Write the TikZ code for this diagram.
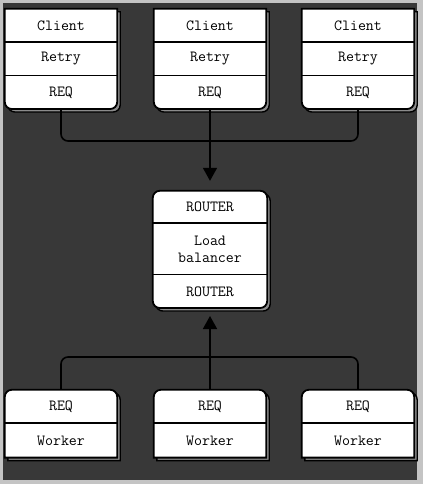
\documentclass[tikz,border=0pt]{standalone}
\usepackage{fontspec}
\usepackage{xcolor}
\usepackage{tikz}
\usetikzlibrary{positioning, arrows.meta, backgrounds, calc}
\definecolor{framegray}{HTML}{C4C4C4}
\definecolor{boardgray}{HTML}{383838}
\definecolor{shadegray}{HTML}{8C8C8C}

\tikzset{
  cell/.style={minimum width=112pt, minimum height=33pt, inner sep=0pt, align=center,
    font=\fontsize{15.5}{17}\selectfont\ttfamily},
  boxline/.style={draw=black, line width=1.8pt, fill=white},
  shade/.style={draw=black, line width=1.4pt, fill=shadegray,
    transform canvas={xshift=3pt, yshift=-3pt}},
  rowline/.style={draw=black, line width=1.6pt},
  link/.style={draw=black, line width=1.6pt, rounded corners=7pt},
  flow/.style={draw=black, line width=1.6pt, -{Triangle[length=13pt,width=14pt]}},
}

\begin{document}
\begin{tikzpicture}[x=1pt, y=-1pt]
  \useasboundingbox (0,0) rectangle (423,484);

  % clients
  \foreach \i/\x in {1/61, 2/210, 3/358} {
    \node[cell] (cl\i) at (\x,25.5) {Client};
    \node[cell, below=0pt of cl\i] (rt\i) {Retry};
    \node[cell, below=0pt of rt\i] (rq\i) {REQ};
  }

  % router
  \node[cell, minimum width=114pt, minimum height=32pt] (rtop) at (210,207) {ROUTER};
  \node[cell, minimum width=114pt, minimum height=51pt, below=0pt of rtop] (lb) {Load\\balancer};
  \node[cell, minimum width=114pt, below=0pt of lb] (rbot) {ROUTER};

  % workers
  \foreach \i/\x in {1/61, 2/210, 3/358} {
    \node[cell] (wq\i) at (\x,406.5) {REQ};
    \node[cell, minimum height=34pt, below=0pt of wq\i] (wk\i) {Worker};
  }

  \begin{scope}[on background layer]
    \fill[framegray] (0,0) rectangle (423,484);
    \fill[boardgray] (3,3) rectangle (417,480);
    \foreach \i in {1,2,3} {
      \foreach \s in {shade, boxline}
        \path[\s] (cl\i.north) -- (cl\i.north east) -- (rt\i.east) [rounded corners=7pt]
          -- (rq\i.south east) -- (rq\i.south west) -- (rt\i.west) [sharp corners]
          -- (cl\i.north west) -- cycle;
      \draw[rowline] (cl\i.south west) -- (cl\i.south east);
      \draw[rowline] (rt\i.south west) -- (rt\i.south east);
      \foreach \s in {shade, boxline}
        \path[\s] (wk\i.south) -- (wk\i.south east) -- (wq\i.east) [rounded corners=7pt]
          -- (wq\i.north east) -- (wq\i.north west) -- (wq\i.west) [sharp corners]
          -- (wk\i.south west) -- cycle;
      \draw[rowline] (wq\i.south west) -- (wq\i.south east);
    }
    \foreach \s in {shade, boxline}
      \path[\s, rounded corners=7pt] (rtop.north west) rectangle (rbot.south east);
    \draw[rowline] (rtop.south west) -- (rtop.south east);
    \draw[rowline] (lb.south west) -- (lb.south east);
  \end{scope}

  % connectors
  \coordinate (tophub) at (210,141);
  \coordinate (bothub) at (210,357);
  \draw[link] (rq1.south) |- (tophub) -| (rq3.south);
  \draw[flow, shorten >=10pt] (rq2.south) -- (rtop.north);
  \draw[link] (wq1.north) |- (bothub) -| (wq3.north);
  \draw[flow, shorten >=8pt] (wq2.north) -- (rbot.south);
\end{tikzpicture}
\end{document}
